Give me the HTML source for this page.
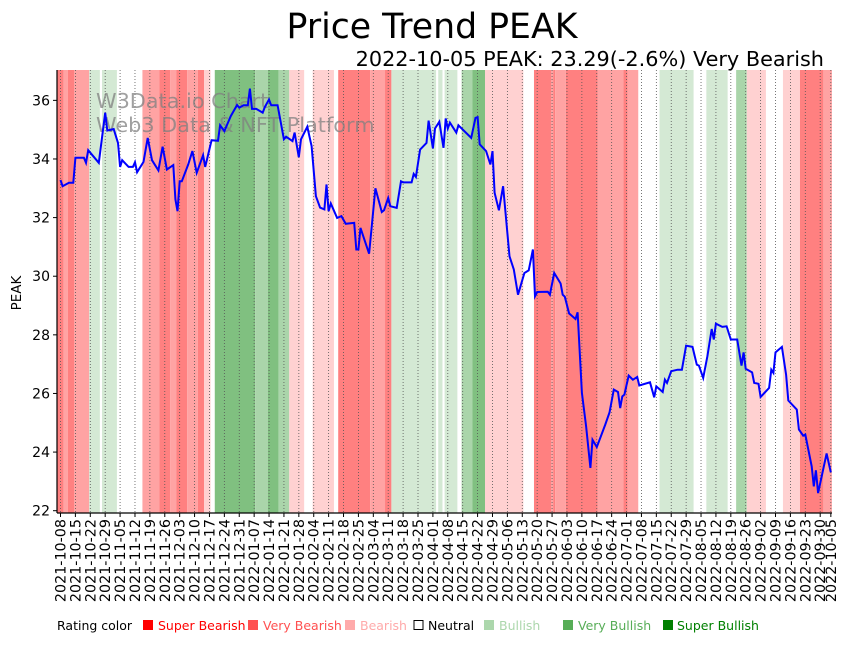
<!DOCTYPE html>
<html><head><meta charset="utf-8"><style>
body{margin:0;background:#fff;}
svg text{font-family:"DejaVu Sans","Liberation Sans",sans-serif;}
</style></head><body>
<svg id="chart" width="851" height="641" viewBox="0 0 851 641" xmlns="http://www.w3.org/2000/svg">
<text x="432" y="38" font-size="34.7" text-anchor="middle" fill="#000">Price Trend PEAK</text>
<text x="824" y="66" font-size="20.8" text-anchor="end" fill="#000">2022-10-05 PEAK: 23.29(-2.6%) Very Bearish</text>
<g id="bands"></g>
<g id="grid"></g>
<text x="96" y="108" font-size="20.8" fill="#808080" fill-opacity="0.75">W3Data.io Chart</text>
<text x="96" y="132" font-size="20.8" fill="#808080" fill-opacity="0.75">Web3 Data &amp; NFT Platform</text>
<path id="line" fill="none" stroke="#0000ff" stroke-width="2"/>
<g id="axes"></g>
<text transform="translate(21,293) rotate(-90)" font-size="13.5" text-anchor="middle">PEAK</text>
<g font-size="12.5">
<text x="57" y="630" fill="#000">Rating color</text>
<rect x="143" y="620" width="10" height="10" fill="#ff0000"/>
<text x="158" y="630" fill="#ff0000">Super Bearish</text>
<rect x="248" y="620" width="10" height="10" fill="#ff5050"/>
<text x="263" y="630" fill="#ff5050">Very Bearish</text>
<rect x="345" y="620" width="10" height="10" fill="#ffaaaa"/>
<text x="360" y="630" fill="#ffaaaa">Bearish</text>
<rect x="414" y="620.5" width="9" height="9" fill="#fff" stroke="#000"/>
<text x="428" y="630" fill="#000">Neutral</text>
<rect x="484" y="620" width="10" height="10" fill="#acd7ac"/>
<text x="499" y="630" fill="#acd7ac">Bullish</text>
<rect x="563" y="620" width="10" height="10" fill="#57ad57"/>
<text x="578" y="630" fill="#57ad57">Very Bullish</text>
<rect x="663" y="620" width="10" height="10" fill="#008000"/>
<text x="677" y="630" fill="#008000">Super Bullish</text>
</g>
</svg>
<script>
const days=[0,1,4,6,7,11,12,13,18,21,22,25,27,28,29,32,34,35,36,39,41,43,46,48,50,53,54,55,56,57,60,62,64,67,68,71,74,75,77,80,83,84,86,88,89,90,92,95,96,98,99,102,105,106,109,110,112,113,116,118,120,122,124,125,126,127,130,132,134,138,139,140,141,145,148,151,152,154,155,158,160,161,165,166,167,169,172,173,175,176,178,180,181,182,183,186,187,193,195,196,197,200,202,203,204,206,208,211,213,215,218,220,222,223,224,229,230,232,235,236,237,239,240,242,243,245,247,249,250,252,256,258,260,262,263,264,265,267,269,271,272,277,279,280,283,284,285,287,290,292,294,297,299,300,302,304,306,307,308,311,313,315,318,320,321,322,325,326,328,329,333,334,335,336,339,341,342,346,347,349,350,353,354,355,356,360,362];
const values=[33.28,33.07,33.19,33.19,34.04,34.04,33.87,34.3,33.87,35.58,34.97,35.02,34.55,33.73,33.96,33.73,33.73,33.89,33.55,33.9,34.72,33.96,33.61,34.42,33.64,33.79,32.62,32.22,33.24,33.24,33.81,34.27,33.53,34.13,33.73,34.64,34.62,35.15,34.95,35.46,35.84,35.75,35.83,35.83,36.4,35.71,35.71,35.58,35.77,36.03,35.83,35.83,34.67,34.76,34.61,34.9,34.06,34.67,35.1,34.44,32.73,32.34,32.28,33.13,32.22,32.48,31.99,32.05,31.79,31.82,30.91,30.91,31.65,30.77,33.0,32.19,32.25,32.67,32.39,32.33,33.24,33.2,33.2,33.49,33.39,34.32,34.55,35.31,34.36,35.04,35.27,34.38,35.38,35.04,35.24,34.9,35.15,34.72,35.4,35.43,34.5,34.27,33.81,34.27,32.85,32.25,33.07,30.68,30.23,29.37,30.11,30.2,30.91,29.32,29.46,29.47,29.37,30.11,29.75,29.37,29.3,28.73,28.67,28.54,28.77,26.02,24.88,23.46,24.42,24.17,24.94,25.35,26.13,26.05,25.5,25.9,25.96,26.61,26.47,26.56,26.27,26.38,25.87,26.24,26.05,26.47,26.36,26.76,26.81,26.81,27.63,27.59,26.98,26.95,26.53,27.27,28.2,27.84,28.38,28.27,28.29,27.84,27.84,26.95,27.4,26.84,26.72,26.36,26.33,25.88,26.19,26.81,26.7,27.4,27.59,26.64,25.76,25.45,24.77,24.56,24.6,23.51,22.83,23.38,22.6,23.95,23.31];
const bandStart=[-1.6,1.5,3.5,6.5,13.5,18.5,19.5,26.5,38.5,46.5,51.5,54.5,59.5,64.5,67.5,70.5,72.5,91.5,97.5,102.5,107.5,114.5,118.5,128.5,130.5,145.5,152.5,155.5,176.5,177.5,179.5,180.5,186.5,188.5,193.5,199.5,217.5,222.5,230.5,231.5,232.5,237.5,252.5,264.5,266.5,271.5,281.5,297.5,303.5,313.5,317.5,322.5,331.5,339.5,347.5,358.5];
const bandEnd=[1.5,3.5,6.5,13.5,18.5,19.5,26.5,38.5,46.5,51.5,54.5,59.5,64.5,67.5,70.5,72.5,91.5,97.5,102.5,107.5,114.5,118.5,128.5,130.5,145.5,152.5,155.5,176.5,177.5,179.5,180.5,186.5,188.5,193.5,199.5,217.5,222.5,230.5,231.5,232.5,237.5,252.5,264.5,266.5,271.5,281.5,297.5,303.5,313.5,317.5,322.5,331.5,339.5,347.5,358.5,362.5];
const bandRating=[0,1,0,1,4,3,4,3,1,0,1,0,1,0,2,3,6,5,6,5,2,3,2,3,0,1,0,4,3,4,3,4,3,5,6,2,3,0,1,0,1,0,1,0,1,3,4,3,4,3,5,2,3,2,0,1];
const xTickLabels=["2021-10-08","2021-10-15","2021-10-22","2021-10-29","2021-11-05","2021-11-12","2021-11-19","2021-11-26","2021-12-03","2021-12-10","2021-12-17","2021-12-24","2021-12-31","2022-01-07","2022-01-14","2022-01-21","2022-01-28","2022-02-04","2022-02-11","2022-02-18","2022-02-25","2022-03-04","2022-03-11","2022-03-18","2022-03-25","2022-04-01","2022-04-08","2022-04-15","2022-04-22","2022-04-29","2022-05-06","2022-05-13","2022-05-20","2022-05-27","2022-06-03","2022-06-10","2022-06-17","2022-06-24","2022-07-01","2022-07-08","2022-07-15","2022-07-22","2022-07-29","2022-08-05","2022-08-12","2022-08-19","2022-08-26","2022-09-02","2022-09-09","2022-09-16","2022-09-23","2022-09-30","2022-10-05"];
const xTickDays=[0,7,14,21,28,35,42,49,56,63,70,77,84,91,98,105,112,119,126,133,140,147,154,161,168,175,182,189,196,203,210,217,224,231,238,245,252,259,266,273,280,287,294,301,308,315,322,329,336,343,350,357,362];
const yTicks=[22,24,26,28,30,32,34,36];
const ratingColors=["#ff8080","#ffa3a3","#ffd1d1",null,"#d4e9d4","#aad5aa","#80c080"];

const L=57,R=832,T=70,B=513;
const X=d=>60.5+d*2.128;
const Y=v=>510.7-(v-22)*29.31;
const NS="http://www.w3.org/2000/svg";
function mk(tag,attrs,parent){const e=document.createElementNS(NS,tag);for(const k in attrs)e.setAttribute(k,attrs[k]);parent.appendChild(e);return e;}

const bands=document.getElementById('bands');
for(let i=0;i<bandStart.length;i++){
  const c=ratingColors[bandRating[i]]; if(!c) continue;
  const x0=Math.max(L,X(bandStart[i])), x1=Math.min(R,X(bandEnd[i]));
  const r=mk('rect',{x:x0,y:T,width:x1-x0,height:B-T,fill:c},bands);
  
  
}
const grid=document.getElementById('grid');
xTickDays.forEach(d=>{
  const l=mk('line',{x1:X(d),x2:X(d),y1:T,y2:B,stroke:'#555','stroke-width':0.8,'stroke-dasharray':'1,2'},grid);
  
  
});
let dstr='';
days.forEach((d,i)=>{dstr+=(i?'L':'M')+X(d).toFixed(1)+','+Y(values[i]).toFixed(1);});
document.getElementById('line').setAttribute('d',dstr);

const axes=document.getElementById('axes');
mk('line',{x1:L,x2:L,y1:T,y2:B,stroke:'#000','stroke-width':1.2},axes);
mk('line',{x1:L,x2:R,y1:B,y2:B,stroke:'#000','stroke-width':1.2},axes);
yTicks.forEach(v=>{
  mk('line',{x1:L-4,x2:L,y1:Y(v),y2:Y(v),stroke:'#000'},axes);
  const t=mk('text',{x:L-7,y:Y(v)+5,'font-size':14,'text-anchor':'end'},axes);
  t.textContent=v;
  
  
});
xTickDays.forEach((d,i)=>{
  mk('line',{x1:X(d),x2:X(d),y1:B,y2:B+4,stroke:'#000'},axes);
  const t=mk('text',{transform:`translate(${X(d)+5},${B+6}) rotate(-90)`,'font-size':14.3,'text-anchor':'end'},axes);
  t.textContent=xTickLabels[i];
  
  
});
</script>
</body></html>
